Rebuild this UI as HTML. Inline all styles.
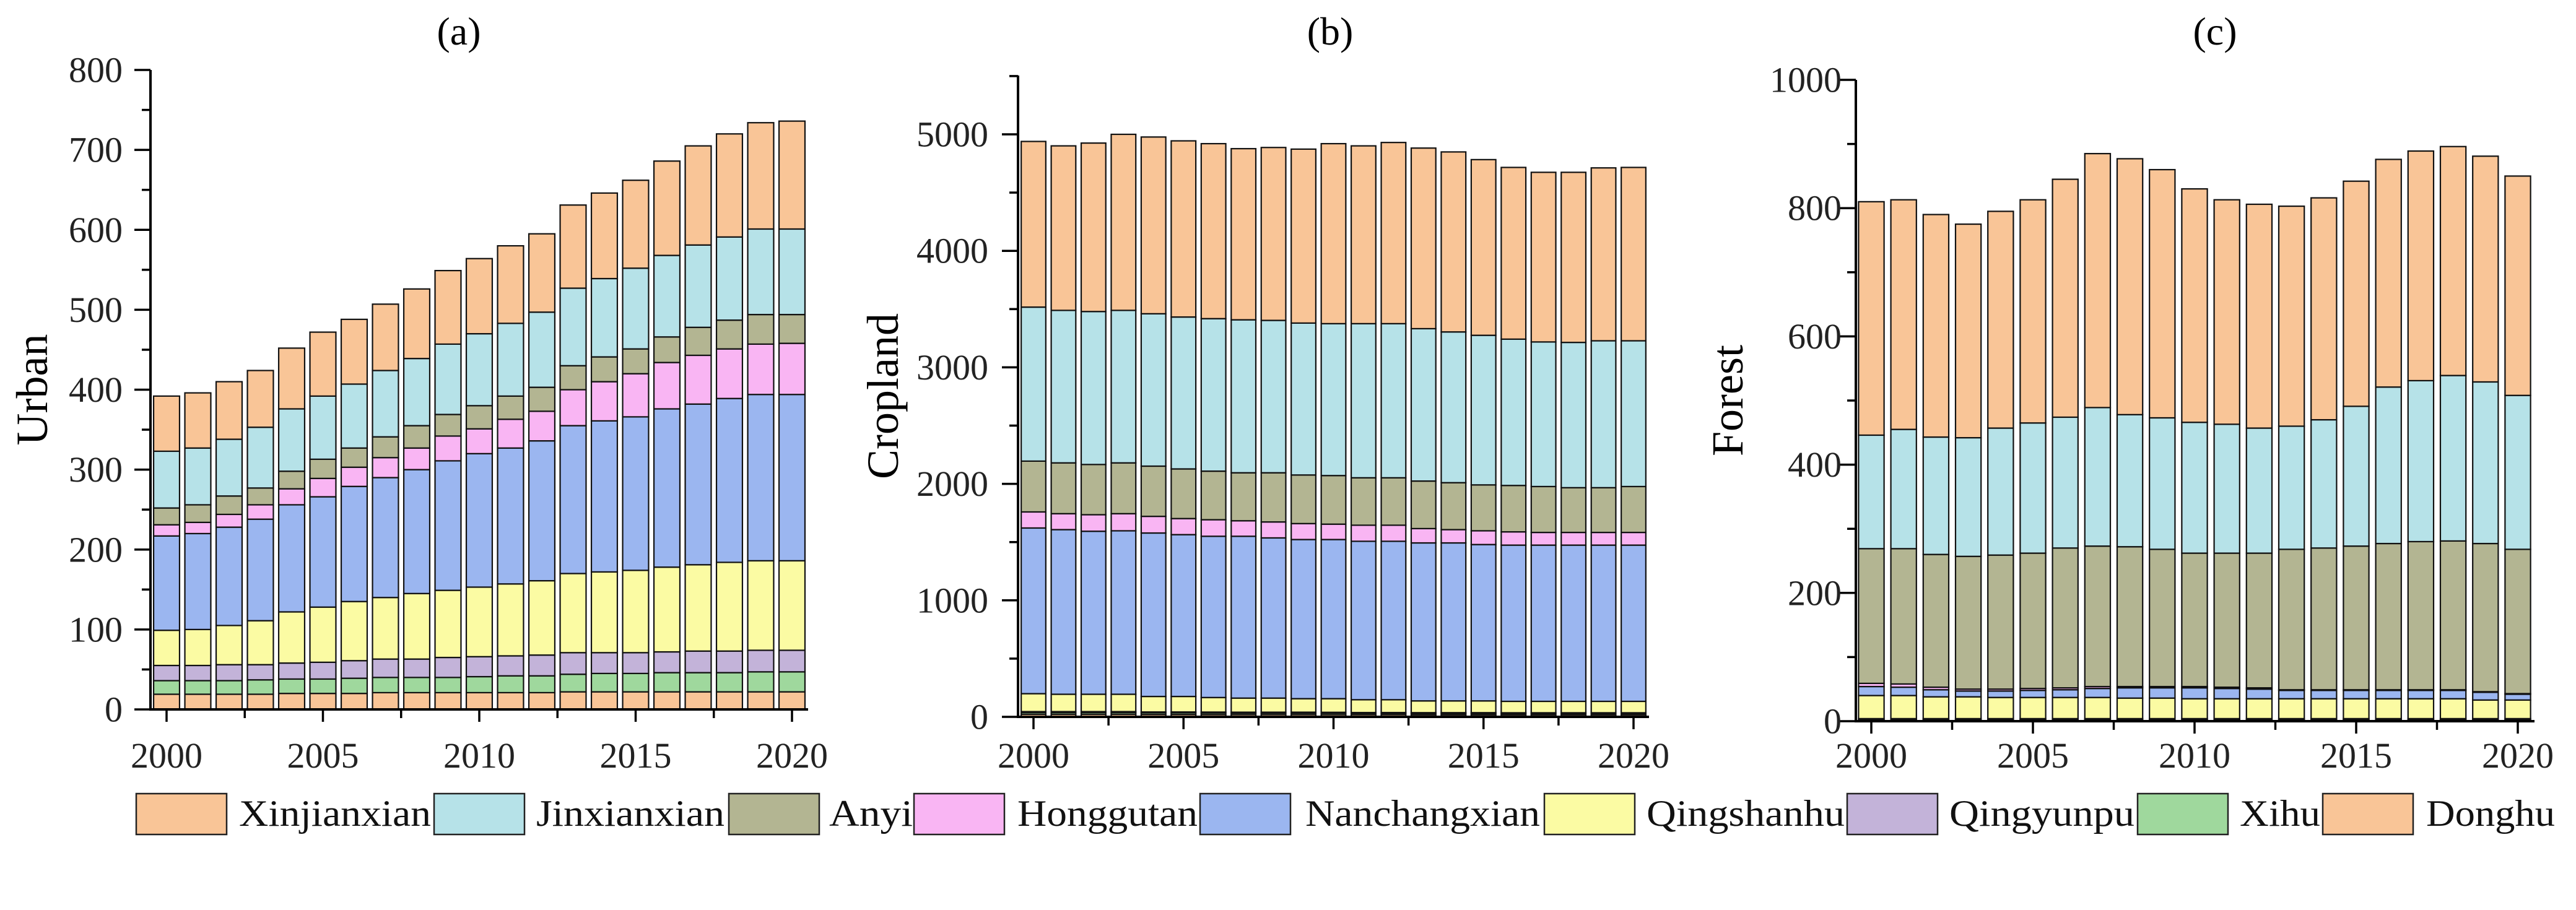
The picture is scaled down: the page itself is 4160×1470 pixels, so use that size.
<!DOCTYPE html>
<html><head><meta charset="utf-8"><style>
html,body{margin:0;padding:0;background:#fff;}
svg{display:block;font-family:"Liberation Serif",serif;}
</style></head><body>
<svg id="chart" width="4160" height="1470" viewBox="0 0 4160 1470" xmlns="http://www.w3.org/2000/svg">
<g id="panels"></g>
<g id="legend"></g>
</svg>
<script>
const years = [2000,2001,2002,2003,2004,2005,2006,2007,2008,2009,2010,2011,2012,2013,2014,2015,2016,2017,2018,2019,2020];
const seriesNames = ["Donghu","Xihu","Qingyunpu","Qingshanhu","Nanchangxian","Honggutan","Anyi","Jinxianxian","Xinjianxian"];
const seriesColors = ["#f9c597","#9fd89d","#c3b3d9","#fbfba3","#9bb6f0","#f9b5f3","#b3b592","#b6e2e8","#f9c597"];
const legendOrder = ["Xinjianxian","Jinxianxian","Anyi","Honggutan","Nanchangxian","Qingshanhu","Qingyunpu","Xihu","Donghu"];

// Panel (a) Urban
const urbanDonghu = [19,19,19,19,20,20,20,21,21,21,21,21,21,22,22,22,22,22,22,22,22];
const urbanXihu = [17,17,17,18,18,18,19,19,19,19,20,21,21,22,23,23,24,24,24,25,25];
const urbanQingyunpu = [19,19,20,19,20,21,22,23,23,25,25,25,26,27,26,26,26,27,27,27,27];
const urbanQingshanhu = [44,45,49,55,64,69,74,77,82,84,87,90,93,99,101,103,106,108,111,112,112];
const urbanNanchangxian = [118,120,123,127,134,138,144,150,155,162,167,170,175,185,189,192,198,201,205,208,208];
const urbanHonggutan = [14,14,16,18,20,23,24,25,27,31,31,36,37,45,49,54,58,61,62,63,64];
const urbanAnyi = [21,22,23,21,22,24,24,26,28,27,29,29,30,30,31,31,32,35,36,37,36];
const urbanJinxianxian = [71,71,71,76,78,79,80,83,84,88,90,91,94,97,98,101,102,103,104,107,107];
const urbanXinjianxian = [69,69,72,71,76,80,81,83,87,92,94,97,98,104,107,110,118,124,129,133,135];
const urbanTicks = [0,100,200,300,400,500,600,700,800];

// Panel (b) Cropland
const cropDonghu = [22,22,22,22,21,21,20,20,20,20,19,19,19,18,18,18,18,18,18,18,18];
const cropXihu = [15,15,15,15,14,14,14,13,13,13,13,12,12,12,12,12,11,11,11,11,11];
const cropQingyunpu = [8,8,8,8,7,7,7,7,7,7,7,6,6,6,6,6,6,6,6,6,6];
const cropQingshanhu = [154,149,149,149,133,133,125,121,121,116,117,110,110,101,101,101,98,98,98,98,98];
const cropNanchangxian = [1422,1413,1399,1403,1403,1389,1384,1389,1375,1366,1366,1360,1360,1356,1356,1342,1341,1341,1341,1341,1341];
const cropHonggutan = [138,137,142,147,143,138,142,133,137,137,132,138,138,123,114,118,114,109,109,109,109];
const cropAnyi = [436,436,431,436,431,426,417,412,422,417,417,407,407,408,403,394,398,394,384,384,394];
const cropJinxianxian = [1322,1309,1313,1309,1308,1304,1309,1313,1308,1304,1304,1323,1323,1308,1294,1284,1256,1241,1247,1261,1251];
const cropXinjianxian = [1422,1412,1446,1511,1517,1512,1502,1469,1484,1493,1545,1526,1555,1550,1545,1508,1474,1456,1460,1484,1488];
const cropTicks = [0,1000,2000,3000,4000,5000];

// Panel (c) Forest
const forestDonghu = [1,1,1,1,1,1,1,1,1,1,1,1,1,1,1,1,1,1,1,1,1];
const forestXihu = [1,1,1,1,1,1,1,1,1,1,1,1,1,1,1,1,1,1,1,1,1];
const forestQingyunpu = [2,2,2,2,2,2,2,2,2,2,2,2,2,2,2,2,2,2,2,2,2];
const forestQingshanhu = [36,36,34,34,33,33,33,33,32,32,31,31,31,31,31,31,31,31,31,29,29];
const forestNanchangxian = [14,13,11,9,10,11,12,14,16,16,17,16,15,13,13,13,13,13,13,12,9];
const forestHonggutan = [5,5,4,3,3,3,3,3,2,2,2,2,2,1,1,1,1,1,1,1,1];
const forestAnyi = [210,211,207,207,209,211,218,219,218,214,208,209,210,219,221,224,228,231,232,231,225];
const forestJinxianxian = [177,186,183,185,198,203,204,216,206,205,204,201,195,192,200,218,244,251,258,252,240];
const forestXinjianxian = [364,358,347,333,338,348,371,396,399,387,364,350,349,343,346,351,355,358,357,352,342];
const forestTicks = [0,200,400,600,800,1000];

const xTickYears = [2000,2005,2010,2015,2020];

const NS = "http://www.w3.org/2000/svg";
function mk(tag, attrs, parent){
  const e = document.createElementNS(NS, tag);
  for (const k in attrs) e.setAttribute(k, attrs[k]);
  parent.appendChild(e);
  return e;
}

const panels = [
  {key:"urban", title:"(a)", label:"Urban", series:[urbanDonghu,urbanXihu,urbanQingyunpu,urbanQingshanhu,urbanNanchangxian,urbanHonggutan,urbanAnyi,urbanJinxianxian,urbanXinjianxian],
   ticks:urbanTicks, minor:50, ymax:800, axTop:113, y0:1146, yTopVal:800, axL:243, axR:1305, x2000:269, x2020:1279, bw:0.83, labelRight:198, ylabX:52, titleX:741},
  {key:"cropland", title:"(b)", label:"Cropland", series:[cropDonghu,cropXihu,cropQingyunpu,cropQingshanhu,cropNanchangxian,cropHonggutan,cropAnyi,cropJinxianxian,cropXinjianxian],
   ticks:cropTicks, minor:500, ymax:5500, axTop:122, y0:1158, yTopVal:5000, yTopPx:217, axL:1644, axR:2663, x2000:1669, x2020:2638, bw:0.82, labelRight:1596, ylabX:1426, titleX:2148},
  {key:"forest", title:"(c)", label:"Forest", series:[forestDonghu,forestXihu,forestQingyunpu,forestQingshanhu,forestNanchangxian,forestHonggutan,forestAnyi,forestJinxianxian,forestXinjianxian],
   ticks:forestTicks, minor:100, ymax:1000, axTop:129, y0:1165, yTopVal:1000, axL:2997, axR:4093, x2000:3022, x2020:4066, bw:0.79, labelRight:2974, ylabX:2790, titleX:3577}
];

const root = document.getElementById("panels");
panels.forEach(p => {
  const g = mk("g", {}, root);
  
  
  const topPx = p.yTopPx !== undefined ? p.yTopPx : p.axTop;
  const yScale = v => p.y0 - v * (p.y0 - topPx) / p.yTopVal;
  const step = (p.x2020 - p.x2000) / (years[years.length-1] - years[0]);
  const xScale = yr => p.x2000 + (yr - years[0]) * step;
  const bw = step * p.bw;

  const t = mk("text", {x:p.titleX, y:72, "font-size":64, "text-anchor":"middle"}, g);
  t.textContent = p.title;
  
  

  const yl = mk("text", {x:p.ylabX, y:(p.y0+p.axTop)/2, "font-size":72, "text-anchor":"middle", transform:`rotate(-90 ${p.ylabX} ${(p.y0+p.axTop)/2})`, "dominant-baseline":"central"}, g);
  yl.textContent = p.label;
  
  

  years.forEach((yr, i) => {
    let cum = 0;
    p.series.forEach((s, si) => {
      const v = s[i];
      const yTop = yScale(cum + v), yBot = yScale(cum);
      const r = mk("rect", {x:xScale(yr)-bw/2, y:yTop, width:bw, height:Math.max(0,yBot-yTop), fill:seriesColors[si], stroke:"#111", "stroke-width":2.2}, g);
      
      
      cum += v;
    });
  });

  const ya = mk("line", {x1:p.axL, y1:p.axTop, x2:p.axL, y2:p.y0+2, stroke:"#000", "stroke-width":4}, g);
  
  
  const xa = mk("line", {x1:p.axL-2, y1:p.y0, x2:p.axR, y2:p.y0, stroke:"#000", "stroke-width":4}, g);
  
  

  for (let v = 0; v <= p.ymax + 0.001; v += p.minor) {
    const major = p.ticks.indexOf(v) >= 0;
    mk("line", {x1:p.axL - (major?26:14), y1:yScale(v), x2:p.axL, y2:yScale(v), stroke:"#000", "stroke-width":3.5}, g);
  }
  p.ticks.forEach(v => {
    const tl = mk("text", {x:p.labelRight, y:yScale(v), "font-size":58, "text-anchor":"end", "dominant-baseline":"central", fill:"#222"}, g);
    tl.textContent = v;
    
    
  });
  for (let yr = 2000; yr <= 2020; yr += 2.5) {
    const major = (yr % 5 === 0);
    mk("line", {x1:xScale(yr), y1:p.y0, x2:xScale(yr), y2:p.y0 + (major?20:14), stroke:"#000", "stroke-width":3.5}, g);
  }
  xTickYears.forEach(yr => {
    const xl = mk("text", {x:xScale(yr), y:1240, "font-size":58, "text-anchor":"middle", fill:"#222"}, g);
    xl.textContent = yr;
    
    
  });
});

const lg = document.getElementById("legend");
const boxX = [220,701,1177,1476,1938,2494,2983,3452,3751];
const textX = [386,866,1339,1643,2108,2659,3148,3617,3918];
const textW = [310,304,135,291,379,320,299,130,208];
legendOrder.forEach((name, i) => {
  const si = seriesNames.indexOf(name);
  const b = mk("rect", {x:boxX[i], y:1282, width:146, height:66, fill:seriesColors[si], stroke:"#222", "stroke-width":2.5}, lg);
  
  
  const tx = mk("text", {x:textX[i], y:1334, "font-size":60, textLength:textW[i], lengthAdjust:"spacingAndGlyphs", fill:"#111"}, lg);
  tx.textContent = name;
  
  
});
</script>
</body></html>
